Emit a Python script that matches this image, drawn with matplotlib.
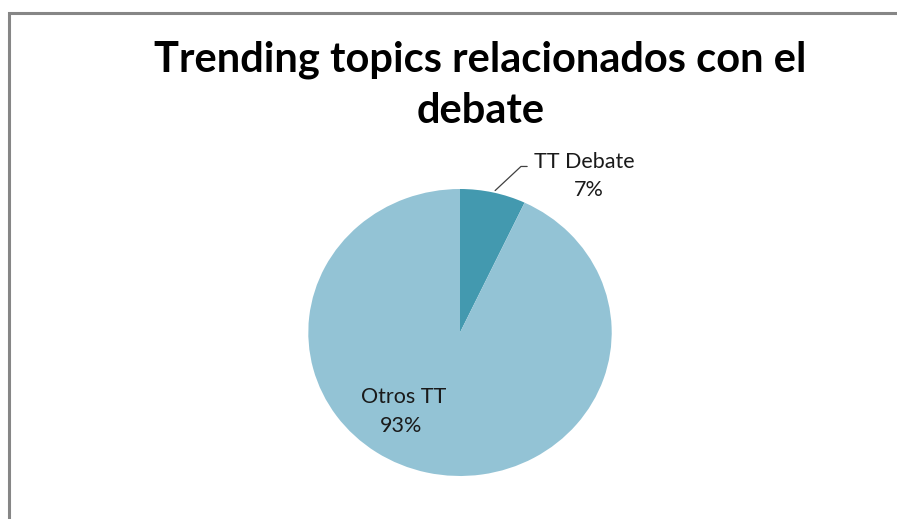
"""Pie chart of debate-related trending topics."""

import matplotlib

matplotlib.use("Agg")
import matplotlib.pyplot as plt
import numpy as np
from matplotlib.patches import Rectangle

categories = ["TT Debate", "Otros TT"]
shares = [7, 93]
title_lines = ["Trending topics relacionados con el", "debate"]

colors = ["#4399AF", "#93C3D5"]
W, H = 897, 519

fig = plt.figure(figsize=(W / 100, H / 100), dpi=100)
fig.patch.set_facecolor("white")

# chart-area frame: only left and top edges show inside the image
fig.patches.append(
    Rectangle((9 / W, -0.05), 1.2, 1 - 13 / H + 0.05, transform=fig.transFigure,
              fill=False, edgecolor="#868686", linewidth=2.2, zorder=0)
)

# title, one baseline per line
for line, baseline in zip(title_lines, [72, 123]):
    fig.text(480.5 / W, 1 - baseline / H, line, ha="center", va="baseline",
             family="Lato", fontweight="bold", fontsize=30, color="black")

# pie is slightly squashed vertically, so the axes box sets the ellipse
cx, cy, rx, ry = 460, 332.5, 151.7, 143.5
ax = fig.add_axes([(cx - rx) / W, 1 - (cy + ry) / H, 2 * rx / W, 2 * ry / H])
wedges, _ = ax.pie(shares, colors=colors, startangle=90, counterclock=False,
                   wedgeprops=dict(linewidth=0))
ax.set_aspect("auto")
ax.set_xlim(-1, 1)
ax.set_ylim(-1, 1)
ax.axis("off")

label_font = dict(family="Lato", fontsize=15.5, color="#1a1a1a", ha="center", va="center")

# small slice: label outside with a leader line from the wedge midpoint
mid = np.deg2rad((wedges[0].theta1 + wedges[0].theta2) / 2)
ax.annotate("", xy=(np.cos(mid), np.sin(mid)), xytext=(0.461, 1.157),
            arrowprops=dict(arrowstyle="-", color="#404040", lw=0.9,
                            connectionstyle="angle,angleA=0,angleB=43,rad=0"),
            annotation_clip=False)
ax.text(0.817, 1.188, categories[0], clip_on=False, **label_font)
ax.text(0.85, 0.993, f"{shares[0]}%", clip_on=False, **label_font)

# large slice: label inside
ax.text(-0.369, -0.446, categories[1], **label_font)
ax.text(-0.386, -0.652, f"{shares[1]}%", **label_font)

fig.savefig("out.png", dpi=100)
